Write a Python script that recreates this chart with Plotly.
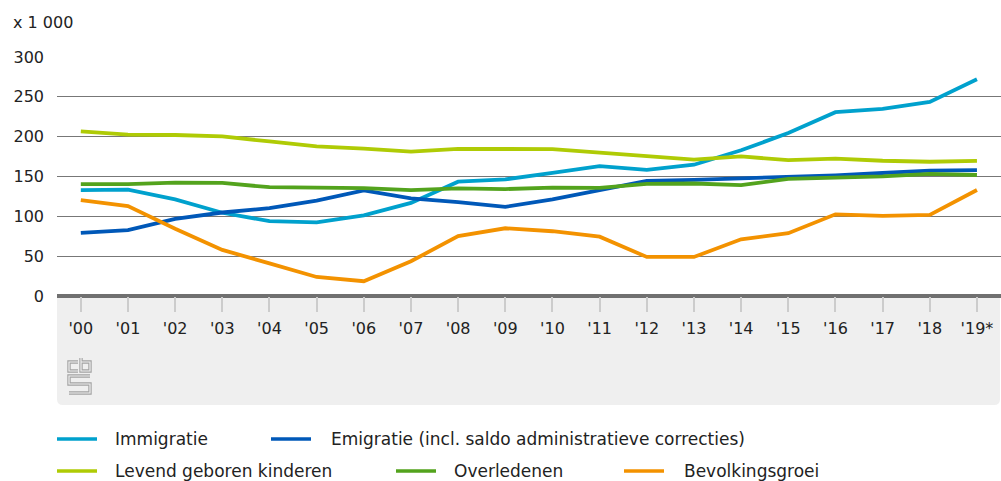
import plotly.graph_objects as go

# ---------------- data (x 1 000) ----------------
years = list(range(2000, 2020))
year_labels = ["'00", "'01", "'02", "'03", "'04", "'05", "'06", "'07", "'08", "'09",
               "'10", "'11", "'12", "'13", "'14", "'15", "'16", "'17", "'18", "'19*"]

immigratie = [133, 133.4, 121.3, 104.5, 94.0, 92.3, 101.2, 116.8, 143.5, 146.4,
              154.4, 163.0, 158.4, 164.8, 182.9, 204.6, 230.7, 234.9, 243.7, 272]
emigratie = [79.2, 82.6, 96.9, 104.8, 110.2, 119.7, 132.5, 122.6, 117.8, 111.9,
             121.4, 133.2, 144.6, 145.7, 147.4, 149.5, 151.5, 154.4, 157.4, 158]
levend_geboren = [206.6, 202.6, 202.1, 200.3, 194.0, 187.9, 185.1, 181.3, 184.6, 184.9,
                  184.4, 180.1, 175.9, 171.3, 175.2, 170.5, 172.5, 169.8, 168.5, 169.7]
overledenen = [140.5, 140.4, 142.4, 141.9, 136.6, 136.4, 135.4, 133.0, 135.1, 134.2,
               136.1, 135.7, 140.8, 141.2, 139.2, 147.1, 148.9, 150.2, 153.4, 151.9]
bevolkingsgroei = [120.3, 112.9, 84.4, 57.9, 40.9, 23.9, 18.5, 43.6, 75.3, 85.0,
                   81.3, 74.5, 49.0, 49.0, 71.2, 78.9, 102.5, 100.7, 101.8, 133]

series_names = ["Immigratie", "Emigratie (incl. saldo administratieve correcties)",
                "Levend geboren kinderen", "Overledenen", "Bevolkingsgroei"]
series_values = [immigratie, emigratie, levend_geboren, overledenen, bevolkingsgroei]
series_colors = ["#00a1cd", "#0058b8", "#afcb05", "#53a31d", "#f39200"]

y_ticks = [0, 50, 100, 150, 200, 250, 300]

# ---------------- layout geometry ----------------
W_FIG, H_FIG = 1001, 481
L, T = 57, 57
R, B = 0, 185
PW = W_FIG - L - R
PH = H_FIG - T - B
FONT = "DejaVu Sans, Noto Sans, sans-serif"
TXT = "#222222"


def X(px):
    return (px - L) / PW


def Y(py):
    return (T + PH - py) / PH


fig = go.Figure()
for name, vals, col in zip(series_names, series_values, series_colors):
    fig.add_trace(go.Scatter(x=years, y=vals, name=name, mode="lines",
                             line=dict(color=col, width=3.8),
                             showlegend=False, hoverinfo="x+y+name"))

shapes = []
# grey band under the x axis with rounded bottom corners
band = (f"M {X(57)},{Y(297)} L {X(1000)},{Y(297)} L {X(1000)},{Y(399)} "
        f"Q {X(1000)},{Y(405)} {X(994)},{Y(405)} L {X(63)},{Y(405)} "
        f"Q {X(57)},{Y(405)} {X(57)},{Y(399)} Z")
shapes.append(dict(type="path", path=band, xref="paper", yref="paper",
                   fillcolor="#efefef", line=dict(width=0), layer="below"))

# small cbs logo (approximation: "cb" above an "S")
logo_paths = [
    [(78, 362), (69, 362), (69, 371), (78, 371)],
    [(81, 358), (81, 371), (90, 371), (90, 362), (81, 362)],
    [(90, 376), (69, 376), (69, 384), (90, 384), (90, 393), (69, 393)],
]
for pts in logo_paths:
    d = "M " + " L ".join(f"{X(a)},{Y(b)}" for a, b in pts)
    shapes.append(dict(type="path", path=d, xref="paper", yref="paper",
                       line=dict(color="#a3a3a3", width=3.4)))
    shapes.append(dict(type="path", path=d, xref="paper", yref="paper",
                       line=dict(color="#efefef", width=1.2)))

# manual legend
legend_items = [
    (0, 57, 113, 439), (1, 271, 329, 439),
    (2, 57, 113, 471), (3, 396, 452, 471), (4, 624, 682, 471),
]
annotations = []
for idx, sx, tx, ry in legend_items:
    shapes.append(dict(type="line", xref="paper", yref="paper",
                       x0=X(sx), x1=X(sx + 40), y0=Y(ry), y1=Y(ry),
                       line=dict(color=series_colors[idx], width=3.6)))
    annotations.append(dict(text=series_names[idx], xref="paper", yref="paper",
                            x=X(tx), y=Y(ry), xanchor="left", yanchor="middle",
                            showarrow=False, font=dict(family=FONT, size=17, color=TXT)))

annotations.append(dict(text="x 1 000", xref="paper", yref="paper",
                        x=X(11), y=Y(22), xanchor="left", yanchor="middle",
                        showarrow=False, font=dict(family=FONT, size=16, color=TXT)))

fig.update_layout(
    width=W_FIG, height=H_FIG,
    margin=dict(l=L, r=R, t=T, b=B, pad=0, autoexpand=False),
    paper_bgcolor="white", plot_bgcolor="white",
    font=dict(family=FONT, size=16, color=TXT),
    shapes=shapes, annotations=annotations, showlegend=False,
    xaxis=dict(range=[1999.495, 2019.51], tickmode="array", tickvals=years,
               ticktext=year_labels, showgrid=False, zeroline=False, showline=False,
               automargin=False,
               ticks="outside", ticklen=15, tickwidth=2, tickcolor="#cccccc",
               ticklabelstandoff=3, tickfont=dict(family=FONT, size=16, color=TXT)),
    yaxis=dict(range=[0, 300], tickmode="array", tickvals=y_ticks,
               showgrid=True, gridcolor="#777777", gridwidth=1, automargin=False,
               zeroline=True, zerolinecolor="#707070", zerolinewidth=4,
               showline=False, ticks="", ticklabelstandoff=12,
               tickfont=dict(family=FONT, size=16, color=TXT)),
)

fig.write_html("out.html", config={"displayModeBar": False},
               post_script="document.body.style.margin='0px';"
                           "document.body.style.overflow='hidden';")
